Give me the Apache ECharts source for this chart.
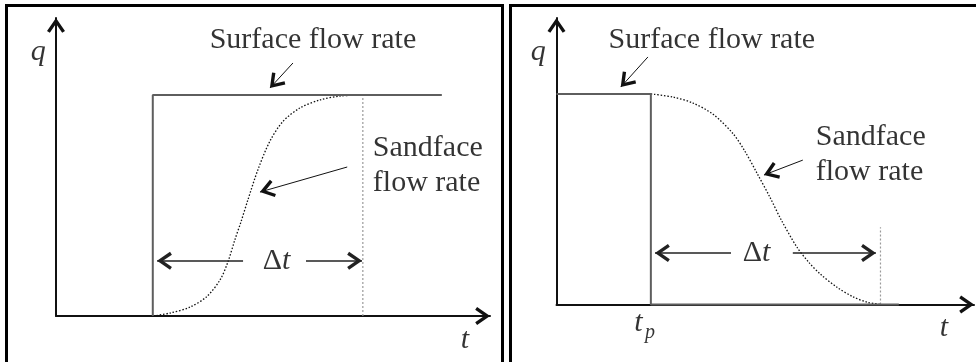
<!DOCTYPE html>
<html>
<head>
<meta charset="utf-8">
<script src="https://cdn.jsdelivr.net/npm/echarts@6/dist/echarts.min.js"></script>
<style>html,body{margin:0;padding:0;background:#fff}#c{width:976px;height:362px}</style>
</head>
<body>
<div id="c"></div>
<script>
// ---- Panel A (rate step up) ----
const surfaceA = [[22.3, 0], [22.3, 74.2], [88.9, 74.2]];
const sandfaceA = [[22.4, 0], [26.3, 1.0], [30.9, 3.0], [34.8, 6.6], [37.8, 12.1], [39.6, 18.1], [41.2, 25.5], [42.6, 31.5], [44.2, 38.9], [46.5, 49.0], [49.3, 58.7], [52.3, 65.3], [56.2, 69.8], [60.8, 72.5], [65.4, 73.8], [70.7, 74.2]];
const endMarkA = [[70.7, 0], [70.7, 74.2]];
const dtArrowsA = [[[43.1, 18.5], [23.3, 18.5]], [[57.6, 18.5], [70.5, 18.5]]];
const pointerArrowsA = [[[54.6, 84.9], [49.3, 76.5]], [[67.1, 50.0], [47.0, 41.6]]];
const textsA = [
  { text: 'Surface flow rate', at: [59.2, 92.6], kind: 'plain' },
  { text: 'Sandface\nflow rate', at: [73.0, 50.5], kind: 'block' },
  { text: 'Δt', at: [50.8, 18.5], kind: 'delta' },
  { text: 'q', at: [-4.1, 88.6], kind: 'ital' },
  { text: 't', at: [94.2, -8.1], kind: 'ital' }
];

// ---- Panel B (rate step down) ----
const surfaceB = [[0, 73.5], [22.6, 73.5], [22.6, 0], [82.0, 0]];
const sandfaceB = [[22.6, 73.5], [27.9, 72.4], [32.7, 70.3], [37.5, 66.4], [42.3, 59.6], [45.0, 53.8], [48.0, 45.9], [51.1, 37.5], [53.8, 29.6], [57.6, 20.0], [60.5, 14.6], [63.2, 10.6], [67.2, 6.0], [71.0, 2.7], [74.4, 0.8], [77.6, 0]];
const endMarkB = [[77.6, 0], [77.6, 27.0]];
const dtArrowsB = [[[41.8, 18.0], [23.6, 18.0]], [[56.6, 18.0], [76.5, 18.0]]];
const pointerArrowsB = [[[21.9, 86.4], [15.4, 75.9]], [[59.0, 50.4], [49.7, 45.2]]];
const textsB = [
  { text: 'Surface flow rate', at: [37.2, 92.3], kind: 'plain' },
  { text: 'Sandface\nflow rate', at: [62.1, 52.4], kind: 'block' },
  { text: 'Δt', at: [47.9, 18.0], kind: 'delta' },
  { text: 'q', at: [-4.4, 88.1], kind: 'ital' },
  { text: 't', at: [92.8, -8.2], kind: 'ital' },
  { text: 't', at: [19.6, -6.5], kind: 'ital' },
  { text: 'p', at: [22.4, -10.0], kind: 'sub' }
];

const ARROW = 'path://M9,1.29L9.01,1.29ZM9,16L18,29L15.2,30.9L9,21.9L2.8,30.9L0,29Z';
const ARROW_SIZE = [18, 29.6];
const FONT = 'Liberation Serif, Times New Roman, serif';

function axisPair(idx) {
  const common = {
    type: 'value', min: 0, max: 100, gridIndex: idx,
    axisTick: { show: false }, axisLabel: { show: false }, splitLine: { show: false },
    axisLine: { show: true, symbol: ['none', ARROW], symbolSize: ARROW_SIZE, lineStyle: { color: '#111', width: 2 } }
  };
  return [Object.assign({}, common), Object.assign({}, common)];
}

function labelFor(t) {
  const base = { show: true, position: 'inside', fontFamily: FONT, fontSize: 30, color: '#000' };
  if (t.kind === 'block') return Object.assign(base, { align: 'left', lineHeight: 35, formatter: t.text });
  if (t.kind === 'delta') return Object.assign(base, { formatter: '{a|Δ}{b|t}', rich: { a: { fontFamily: FONT, fontSize: 30, color: '#000' }, b: { fontFamily: FONT, fontSize: 30, fontStyle: 'italic', color: '#000' } } });
  if (t.kind === 'ital') return Object.assign(base, { fontStyle: 'italic', formatter: t.text });
  if (t.kind === 'sub') return Object.assign(base, { fontStyle: 'italic', fontSize: 20, formatter: t.text });
  return Object.assign(base, { formatter: t.text });
}

function panelSeries(idx, surface, sandface, endMark, dtArrows, pointerArrows, texts) {
  return [
    { type: 'line', xAxisIndex: idx, yAxisIndex: idx, data: endMark, symbol: 'none', clip: false, silent: true,
      lineStyle: { color: '#9a9a9a', width: 1.2, type: [2, 2] } },
    { type: 'line', xAxisIndex: idx, yAxisIndex: idx, data: sandface, symbol: 'none', clip: false, silent: true,
      smooth: 0.3, lineStyle: { color: '#111', width: 1.3, type: [1.5, 1.8] } },
    { type: 'line', xAxisIndex: idx, yAxisIndex: idx, data: surface, symbol: 'none', clip: false, silent: true, z: 3,
      lineStyle: { color: '#5e5e5e', width: 2 },
      markLine: {
        silent: true, animation: false, symbol: ['none', ARROW], symbolSize: ARROW_SIZE,
        label: { show: false }, emphasis: { disabled: true },
        lineStyle: { color: '#111', width: 1, type: 'solid' },
        data: dtArrows.map(a => [{ coord: a[0], lineStyle: { width: 1.5, color: '#222', type: 'solid' } }, { coord: a[1] }])
          .concat(pointerArrows.map(a => [{ coord: a[0], lineStyle: { width: 1, color: '#111', type: 'solid' } }, { coord: a[1] }]))
      } },
    { type: 'scatter', xAxisIndex: idx, yAxisIndex: idx, symbolSize: 1, clip: false, silent: true, z: 5,
      itemStyle: { color: 'rgba(0,0,0,0)' },
      data: texts.map(t => ({ value: t.at, label: labelFor(t) })) }
  ];
}

const axesA = axisPair(0), axesB = axisPair(1);
const chart = echarts.init(document.getElementById('c'), null, { renderer: 'canvas' });
chart.setOption({
  animation: false,
  backgroundColor: '#fff',
  graphic: [
    { type: 'rect', shape: { x: 6.5, y: 5.5, width: 496, height: 420 }, style: { fill: 'none', stroke: '#000', lineWidth: 3 }, silent: true },
    { type: 'rect', shape: { x: 510.5, y: 5.5, width: 500, height: 420 }, style: { fill: 'none', stroke: '#000', lineWidth: 3 }, silent: true }
  ],
  grid: [
    { left: 56, top: 18, width: 434, height: 298 },
    { left: 556.5, top: 18, width: 417.5, height: 286.5 }
  ],
  xAxis: [axesA[0], axesB[0]],
  yAxis: [axesA[1], axesB[1]],
  series: [].concat(
    panelSeries(0, surfaceA, sandfaceA, endMarkA, dtArrowsA, pointerArrowsA, textsA),
    panelSeries(1, surfaceB, sandfaceB, endMarkB, dtArrowsB, pointerArrowsB, textsB)
  )
});
</script>
</body>
</html>
